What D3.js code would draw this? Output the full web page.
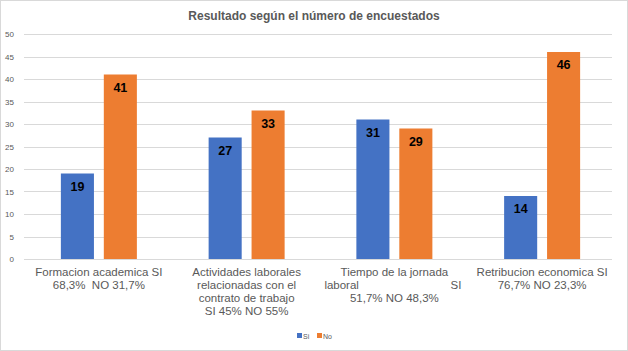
<!DOCTYPE html>
<html><head><meta charset="utf-8">
<script src="https://cdn.jsdelivr.net/npm/d3@7"></script>
<style>
body{margin:0;background:#fff;}
svg{display:block;font-family:"Liberation Sans",Arial,sans-serif;}
</style></head>
<body><div id="chart"></div>
<script>
// data
var categories=["c1","c2","c3","c4"];
var catLines=[
  ["Formacion academica SI","68,3%  NO 31,7%"],
  ["Actividades laborales","relacionadas con el","contrato de trabajo","SI 45% NO 55%"],
  ["Tiempo de la jornada",null,"51,7% NO 48,3%"],
  ["Retribucion economica SI","76,7% NO 23,3%"]
];
var series=["Si","No"];
var siValues=[19,27,31,14];
var noValues=[41,33,29,46];
var yTicks=[0,5,10,15,20,25,30,35,40,45,50];
var colors={Si:"#4472C4",No:"#ED7D31"};

var W=628,H=351;
var svg=d3.select("#chart").append("svg").attr("width",W).attr("height",H);
svg.append("rect").attr("x",0.5).attr("y",0.5).attr("width",W-1).attr("height",H-1).attr("fill","#fff").attr("stroke","#D9D9D9");

svg.append("text").attr("x",314).attr("y",20).attr("text-anchor","middle")
  .attr("font-size",12).attr("font-weight","bold").attr("fill","#595959")
  .text("Resultado según el número de encuestados");

var y=d3.scaleLinear().domain([0,50]).range([259,34]);
var x0=d3.scaleBand().domain(categories).range([25,616]);
var x1=d3.scaleBand().domain(series).range([-38,38]).paddingInner(0.23);

// gridlines
svg.append("g").selectAll("line").data(yTicks).enter().append("line")
  .attr("x1",24).attr("x2",612).attr("y1",function(d){return Math.round(y(d))+0.5;}).attr("y2",function(d){return Math.round(y(d))+0.5;})
  .attr("stroke","#D9D9D9").attr("stroke-width",1);
svg.append("g").selectAll("text").data(yTicks).enter().append("text")
  .attr("x",14).attr("y",function(d){return y(d)+3;}).attr("text-anchor","end")
  .attr("font-size",8).attr("fill","#595959").text(function(d){return d;});

var rows=categories.map(function(c,i){return {cat:c,vals:[{k:"Si",v:siValues[i]},{k:"No",v:noValues[i]}]};});
var g=svg.append("g").selectAll("g").data(rows).enter().append("g")
  .attr("transform",function(d){return "translate("+(x0(d.cat)+x0.bandwidth()/2)+",0)";});
g.selectAll("rect").data(function(d){return d.vals;}).enter().append("rect")
  .attr("x",function(d){return x1(d.k);}).attr("width",x1.bandwidth())
  .attr("y",function(d){return y(d.v);}).attr("height",function(d){return y(0)-y(d.v);})
  .attr("fill",function(d){return colors[d.k];});
g.selectAll("text.val").data(function(d){return d.vals;}).enter().append("text")
  .attr("class","val").attr("x",function(d){return x1(d.k)+x1.bandwidth()/2;})
  .attr("y",function(d){return y(d.v)+17;}).attr("text-anchor","middle")
  .attr("font-size",12.5).attr("font-weight","bold").attr("fill","#000")
  .text(function(d){return d.v;});

// category labels
categories.forEach(function(c,i){
  var cx=x0(c)+x0.bandwidth()/2;
  catLines[i].forEach(function(line,j){
    var ly=276+j*13;
    if(line===null){
      svg.append("text").attr("x",cx-70).attr("y",ly).attr("font-size",11.5).attr("fill","#595959").text("laboral");
      svg.append("text").attr("x",cx+67).attr("y",ly).attr("text-anchor","end").attr("font-size",11.5).attr("fill","#595959").text("SI");
      return;
    }
    svg.append("text").attr("x",cx).attr("y",ly).attr("text-anchor","middle")
      .attr("font-size",11.5).attr("fill","#595959").attr("xml:space","preserve").style("white-space","pre").text(line);
  });
});

// legend
var lg=svg.append("g").attr("transform","translate(297,333)");
series.forEach(function(s,i){
  var gx=i*20;
  lg.append("rect").attr("x",gx).attr("y",0).attr("width",5).attr("height",5).attr("fill",colors[s]);
  lg.append("text").attr("x",gx+6).attr("y",5.5).attr("font-size",7).attr("fill","#595959").text(s);
});
</script></body></html>
